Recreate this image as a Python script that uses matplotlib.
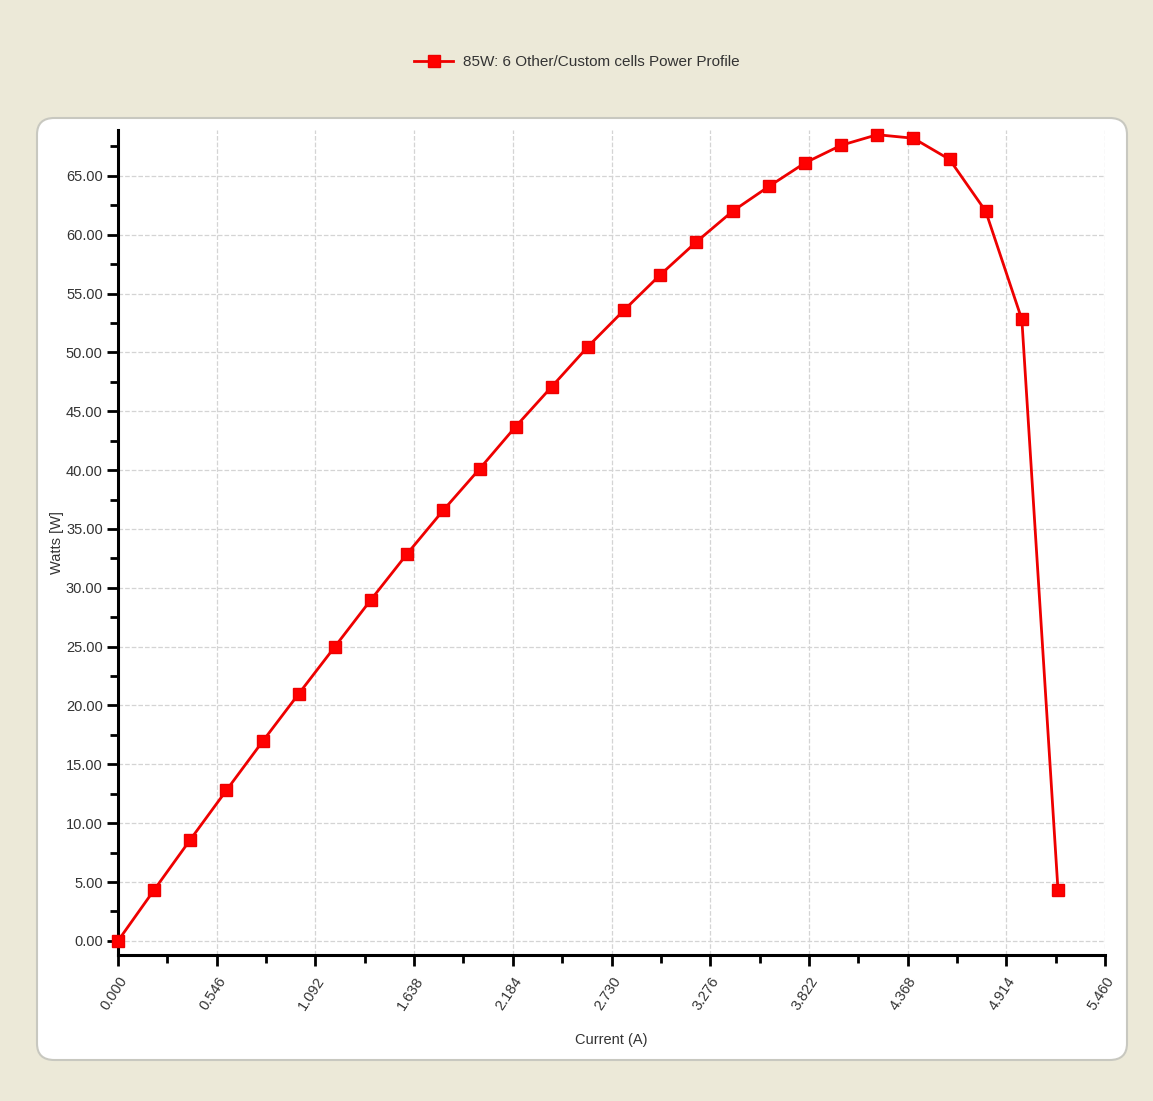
import numpy as np
import matplotlib.pyplot as plt
from matplotlib.patches import FancyBboxPatch
from matplotlib.ticker import MultipleLocator, FixedLocator

# data
current = [0.0, 0.2, 0.4, 0.6, 0.8, 1.0, 1.2, 1.4, 1.6, 1.8, 2.0, 2.2, 2.4, 2.6,
           2.8, 3.0, 3.2, 3.4, 3.6, 3.8, 4.0, 4.2, 4.4, 4.6, 4.8, 5.0, 5.2]
watts = [0.0, 4.33, 8.6, 12.8, 16.95, 21.0, 25.0, 29.0, 32.9, 36.6, 40.1, 43.7,
         47.1, 50.5, 53.6, 56.6, 59.4, 62.0, 64.1, 66.1, 67.6, 68.5, 68.2, 66.4,
         62.0, 52.8, 4.3]
x_ticks = [0.000, 0.546, 1.092, 1.638, 2.184, 2.730, 3.276, 3.822, 4.368, 4.914, 5.460]
y_ticks = np.arange(0, 66, 5)
series_name = "85W: 6 Other/Custom cells Power Profile"

plt.rcParams['font.family'] = ['Liberation Sans', 'DejaVu Sans']

fig = plt.figure(figsize=(11.53, 11.01), dpi=100)
fig.patch.set_facecolor('#ece9d8')

# white rounded panel behind the plot
W, H = 1153.0, 1101.0
panel = FancyBboxPatch((37 / W, (H - 1060) / H), (1127 - 37) / W, (1060 - 118) / H,
                       boxstyle="round,pad=0,rounding_size=0.015",
                       transform=fig.transFigure, facecolor='white',
                       edgecolor='#c8c8c0', linewidth=1.5, zorder=-5)
fig.patches.append(panel)

ax = fig.add_axes([118 / W, (H - 955) / H, (1105 - 118) / W, (955 - 130) / H])
ax.set_facecolor('none')
ax.set_zorder(2)

ax.plot(current, watts, color='#ee0000', linewidth=2, marker='s', markersize=8,
        markerfacecolor='#ff0000', markeredgecolor='#ee0000', label=series_name,
        clip_on=False, zorder=3)

ax.set_xlim(0, 5.46)
ax.set_ylim(-1.2, 68.9)

ax.xaxis.set_major_locator(FixedLocator(x_ticks))
ax.xaxis.set_minor_locator(MultipleLocator(0.273))
ax.set_xticklabels(["%.3f" % v for v in x_ticks], rotation=57, ha='right',
                   va='top', rotation_mode='anchor', fontsize=11.5)
ax.set_yticks(y_ticks)
ax.yaxis.set_minor_locator(MultipleLocator(2.5))
ax.set_yticklabels(["%.2f" % v for v in y_ticks])

ax.grid(True, which='major', color='#d4d4d4', linestyle='--', linewidth=0.9)
for s in ['top', 'right']:
    ax.spines[s].set_visible(False)
for s in ['left', 'bottom']:
    ax.spines[s].set_linewidth(2.2)
ax.tick_params(which='major', length=8, width=2, labelsize=10.5, colors='black',
               labelcolor='#333333', pad=3)
ax.tick_params(axis='x', which='major', pad=6)
ax.tick_params(which='minor', length=6, width=2)

ax.set_xlabel("Current (A)", fontsize=10.5, color='#333333', labelpad=14)
ax.set_ylabel("Watts [W]", fontsize=10.5, color='#333333', labelpad=1)

fig.legend(loc='center', bbox_to_anchor=(0.5, (H - 62) / H), frameon=False,
           fontsize=11, handlelength=2.6, handletextpad=0.6, labelcolor='#333333')

fig.savefig('out.png', dpi=100, facecolor=fig.get_facecolor())
